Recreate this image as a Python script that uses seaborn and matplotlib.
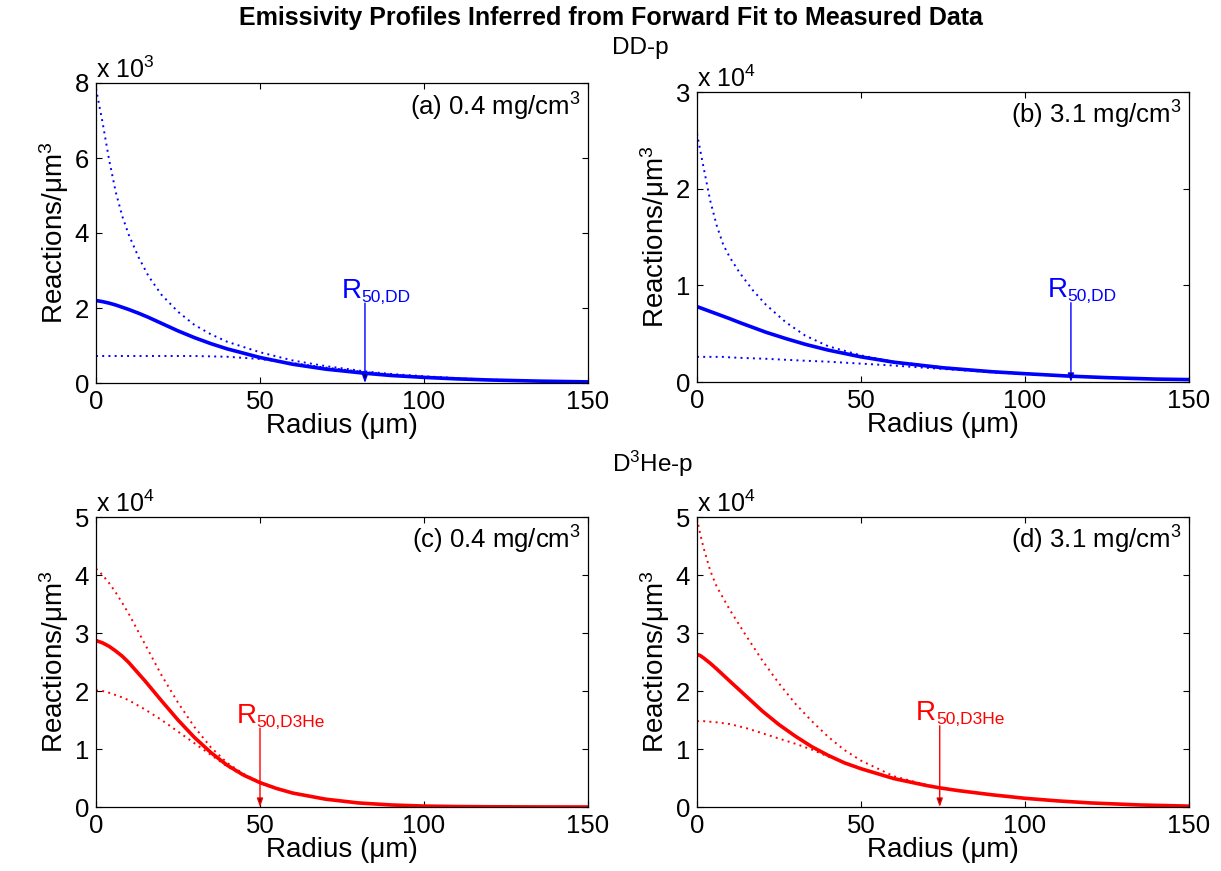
import numpy as np
import pandas as pd
import seaborn as sns
import matplotlib.pyplot as plt

sns.set_style('ticks')
plt.rcParams['font.family'] = ['Liberation Sans', 'DejaVu Sans']
plt.rcParams['mathtext.fontset'] = 'custom'
plt.rcParams['mathtext.rm'] = 'Liberation Sans'
plt.rcParams['mathtext.it'] = 'Liberation Sans:italic'
plt.rcParams['mathtext.bf'] = 'Liberation Sans:bold'
for k in ['text.color', 'axes.labelcolor', 'xtick.color', 'ytick.color', 'axes.edgecolor']:
    plt.rcParams[k] = 'black'

# --- data ---
# (a) DD-p, 0.4 mg/cm3, units of 1e3
r_a = [0, 2, 4, 6, 8, 10, 13, 16, 20, 25, 30, 35, 40, 50, 60, 70, 82, 90, 100, 110, 120, 135, 150]
a_fit = [2.2, 2.17, 2.13, 2.08, 2.02, 1.96, 1.86, 1.75, 1.59, 1.39, 1.21, 1.05, 0.91, 0.68, 0.5, 0.37, 0.26, 0.2, 0.15, 0.11, 0.08, 0.05, 0.03]
a_hi = [7.85, 6.95, 5.95, 5.1, 4.45, 3.95, 3.35, 2.85, 2.35, 1.9, 1.55, 1.3, 1.1, 0.82, 0.6, 0.45, 0.31, 0.24, 0.18, 0.13, 0.09, 0.05, 0.03]
a_lo = [0.72, 0.72, 0.72, 0.72, 0.72, 0.72, 0.72, 0.72, 0.72, 0.72, 0.72, 0.71, 0.7, 0.64, 0.53, 0.41, 0.29, 0.22, 0.16, 0.12, 0.085, 0.05, 0.03]

# (b) DD-p, 3.1 mg/cm3, units of 1e4
r_b = [0, 2, 4, 6, 8, 10, 13, 17, 21, 27, 33, 40, 50, 60, 75, 90, 100, 114, 125, 140, 150]
b_fit = [0.78, 0.755, 0.73, 0.705, 0.68, 0.655, 0.615, 0.565, 0.515, 0.45, 0.39, 0.33, 0.26, 0.205, 0.147, 0.106, 0.086, 0.06, 0.045, 0.03, 0.025]
b_hi = [2.57, 2.22, 1.88, 1.62, 1.42, 1.29, 1.13, 0.95, 0.8, 0.62, 0.48, 0.37, 0.275, 0.21, 0.152, 0.108, 0.088, 0.061, 0.046, 0.031, 0.026]
b_lo = [0.26, 0.26, 0.26, 0.26, 0.26, 0.255, 0.25, 0.245, 0.24, 0.23, 0.22, 0.21, 0.19, 0.17, 0.135, 0.1, 0.082, 0.058, 0.044, 0.03, 0.025]

# (c) D3He-p, 0.4 mg/cm3, units of 1e4
r_c = [0, 2, 4, 6, 8, 10, 15, 20, 25, 30, 35, 40, 45, 50, 55, 60, 70, 80, 90, 100, 110, 120, 135, 150]
c_fit = [2.87, 2.83, 2.77, 2.69, 2.6, 2.49, 2.17, 1.83, 1.5, 1.2, 0.94, 0.72, 0.55, 0.42, 0.32, 0.24, 0.135, 0.07, 0.035, 0.016, 0.008, 0.004, 0.001, 0.0]
c_hi = [4.11, 4.0, 3.86, 3.7, 3.52, 3.33, 2.8, 2.27, 1.8, 1.38, 1.03, 0.76, 0.57, 0.43, 0.325, 0.245, 0.137, 0.071, 0.036, 0.016, 0.008, 0.004, 0.001, 0.0]
c_lo = [2.01, 2.0, 1.97, 1.93, 1.89, 1.84, 1.68, 1.5, 1.3, 1.1, 0.9, 0.7, 0.54, 0.415, 0.318, 0.238, 0.134, 0.069, 0.034, 0.015, 0.008, 0.004, 0.001, 0.0]

# (d) D3He-p, 3.1 mg/cm3, units of 1e4
r_d = [0, 1, 2, 4, 6, 10, 15, 20, 25, 30, 35, 40, 45, 50, 60, 70, 74, 80, 90, 100, 110, 120, 135, 150]
d_fit = [2.63, 2.61, 2.57, 2.48, 2.38, 2.17, 1.91, 1.65, 1.42, 1.22, 1.04, 0.89, 0.76, 0.66, 0.49, 0.37, 0.33, 0.28, 0.21, 0.15, 0.105, 0.07, 0.035, 0.015]
d_hi = [4.97, 4.7, 4.47, 4.08, 3.8, 3.4, 2.95, 2.52, 2.13, 1.78, 1.48, 1.21, 0.98, 0.8, 0.53, 0.38, 0.335, 0.285, 0.21, 0.15, 0.105, 0.07, 0.035, 0.015]
d_lo = [1.48, 1.48, 1.48, 1.47, 1.46, 1.43, 1.36, 1.27, 1.18, 1.09, 0.99, 0.87, 0.76, 0.66, 0.49, 0.37, 0.33, 0.28, 0.21, 0.15, 0.105, 0.07, 0.035, 0.015]

panel_labels = ['(a) 0.4 mg/cm$^{3}$', '(b) 3.1 mg/cm$^{3}$', '(c) 0.4 mg/cm$^{3}$', '(d) 3.1 mg/cm$^{3}$']
exponents = [3, 4, 4, 4]
ymax = [8, 3, 5, 5]
yticks = [[0, 2, 4, 6, 8], [0, 1, 2, 3], [0, 1, 2, 3, 4, 5], [0, 1, 2, 3, 4, 5]]
xticks = [0, 50, 100, 150]
r50 = [82, 114, 50, 74]
r50_top = [2.13, 0.82, 1.36, 1.40]
r50_names = ['50,DD', '50,DD', '50,D3He', '50,D3He']
colors = ['blue', 'blue', 'red', 'red']

radii = [r_a, r_b, r_c, r_d]
fits = [a_fit, b_fit, c_fit, d_fit]
his = [a_hi, b_hi, c_hi, d_hi]
los = [a_lo, b_lo, c_lo, d_lo]

W, H = 1221, 871
fig = plt.figure(figsize=(W / 100, H / 100), dpi=100)

# axes boxes in pixels: left, top, right, bottom
boxes = [(96, 83, 588, 383), (697, 92, 1189, 382), (96, 517, 588, 807), (697, 517, 1189, 807)]

for i in range(4):
    l, t, r, b = boxes[i]
    ax = fig.add_axes([l / W, 1 - b / H, (r - l) / W, (b - t) / H])
    col = colors[i]
    sns.lineplot(x=radii[i], y=his[i], ax=ax, color=col, lw=1.4, linestyle=(0, (1, 2.2)))
    sns.lineplot(x=radii[i], y=los[i], ax=ax, color=col, lw=1.4, linestyle=(0, (1, 2.2)))
    sns.lineplot(x=radii[i], y=fits[i], ax=ax, color=col, lw=2.6)

    ax.annotate('', xy=(r50[i], 0), xytext=(r50[i], r50_top[i]),
                arrowprops=dict(arrowstyle='-|>,head_length=0.5,head_width=0.18',
                                ec=col, fc='#300000' if col == 'red' else '#000030',
                                lw=1.0, shrinkA=0, shrinkB=0))
    ax.annotate('R', xy=(r50[i], r50_top[i]), xytext=(-17, 4), textcoords='offset points',
                ha='left', va='baseline', color=col, fontsize=20)
    ax.annotate(r50_names[i], xy=(r50[i], r50_top[i]), xytext=(-2.6, 1), textcoords='offset points',
                ha='left', va='baseline', color=col, fontsize=12.5)

    ax.set_xlim(0, 150)
    ax.set_ylim(0, ymax[i])
    ax.set_xticks(xticks)
    ax.set_yticks(yticks[i])
    ax.tick_params(direction='in', top=True, right=True, length=4, width=0.8,
                   labelsize=18.5, pad=5, colors='black')
    for s in ax.spines.values():
        s.set_linewidth(0.9)
        s.set_color('black')
    ax.set_xlabel('Radius (μm)', fontsize=20, labelpad=-1)
    ax.set_ylabel('Reactions/μm$^{3}$', fontsize=20, labelpad=3)
    ax.text(0.0, 1.0, 'x 10$^{%d}$' % exponents[i], transform=ax.transAxes,
            ha='left', va='bottom', fontsize=18)
    ax.text(0.985, 0.975, panel_labels[i], transform=ax.transAxes,
            ha='right', va='top', fontsize=18.5)

fig.text(0.5, 1 - 18 / H, 'Emissivity Profiles Inferred from Forward Fit to Measured Data',
         ha='center', va='center', fontsize=18, fontweight='bold')
fig.text(612 / W, 1 - 48 / H, 'DD-p', ha='left', va='center', fontsize=17.5)
fig.text(612 / W, 1 - 464 / H, 'D$^{3}$He-p', ha='left', va='center', fontsize=17.5)

plt.savefig('out.png', dpi=100)
